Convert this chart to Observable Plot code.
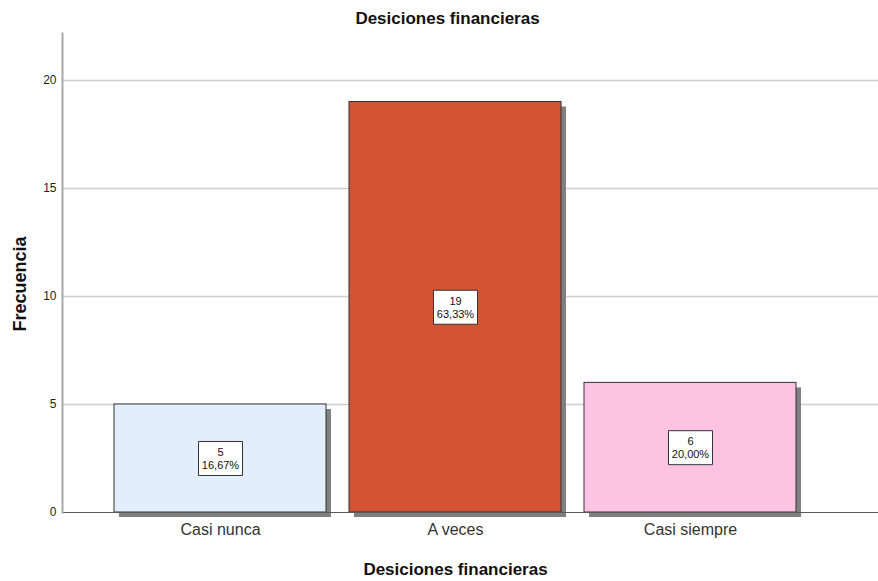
<!DOCTYPE html>
<html>
<head>
<meta charset="utf-8">
<script src="https://cdn.jsdelivr.net/npm/d3@7"></script>
<script src="https://cdn.jsdelivr.net/npm/@observablehq/plot@0.6"></script>
<style>
  html, body { margin: 0; padding: 0; background: #fff; }
  #chart svg { display: block; }
</style>
</head>
<body>
<div id="chart"></div>
<script>
const categories = ["Casi nunca", "A veces", "Casi siempre"];
const counts = [5, 19, 6];
const percents = ["16,67%", "63,33%", "20,00%"];
const yTicks = [0, 5, 10, 15, 20];
const gridTicks = [5, 10, 15, 20];
const titleText = "Desiciones financieras";
const xLabelText = "Desiciones financieras";
const yLabelText = "Frecuencia";

const data = categories.map((c, i) => ({category: c, count: counts[i], pct: percents[i]}));

const boxSymbol = {
  draw(context) {
    context.moveTo(-22, -17);
    context.lineTo(22, -17);
    context.lineTo(22, 17);
    context.lineTo(-22, 17);
    context.closePath();
  }
};

const font = "'Liberation Sans', Arial, sans-serif";

const chart = Plot.plot({
  width: 878,
  height: 581,
  marginTop: 33,
  marginBottom: 69,
  marginLeft: 62,
  marginRight: 0,
  style: {fontFamily: font, background: "#fff", overflow: "visible"},
  x: {domain: categories, paddingInner: 0.0975, paddingOuter: 0.278, align: 0.39, label: null},
  y: {domain: [0, 22.17], label: null},
  color: {domain: categories, range: ["#e2eefb", "#d25433", "#fec3e2"]},
  marks: [
    Plot.gridY(gridTicks, {stroke: "#cfcfcf", strokeOpacity: 1, strokeWidth: 1.5}),
    Plot.barY(data, {x: "category", y: "count", fill: "#808080", dx: 5, dy: 5}),
    Plot.barY(data, {x: "category", y: "count", fill: "category", stroke: "#333", strokeWidth: 1}),
    Plot.ruleY([0], {stroke: "#5a5a5a", strokeWidth: 1}),
    Plot.frame({anchor: "left", stroke: "#a8a8a8", strokeWidth: 2}),
    Plot.axisY({ticks: yTicks, tickSize: 0, tickPadding: 6, fontSize: 12, color: "#222", label: null}),
    Plot.axisX({tickSize: 0, tickPadding: 11, fontSize: 16, color: "#333", label: null}),
    Plot.dot(data, {x: "category", y: d => d.count / 2, symbol: boxSymbol, fill: "#fff", stroke: "#333", strokeWidth: 1, r: 5}),
    Plot.text(data, {x: "category", y: d => d.count / 2, text: d => `${d.count}\n${d.pct}`, fontSize: 11, lineHeight: 1.18, fill: "#111"}),
    Plot.text([titleText], {frameAnchor: "top", lineAnchor: "middle", dx: -23, dy: -15, fontSize: 17, fontWeight: "bold", fill: "#111"}),
    Plot.text([xLabelText], {frameAnchor: "bottom", lineAnchor: "middle", dx: -15, dy: 57, fontSize: 17, fontWeight: "bold", fill: "#111"}),
    Plot.text([yLabelText], {frameAnchor: "left", textAnchor: "middle", lineAnchor: "middle", dx: -42, dy: 11, rotate: -90, fontSize: 18, fontWeight: "bold", fill: "#111"})
  ]
});
document.getElementById("chart").appendChild(chart);
</script>
</body>
</html>
